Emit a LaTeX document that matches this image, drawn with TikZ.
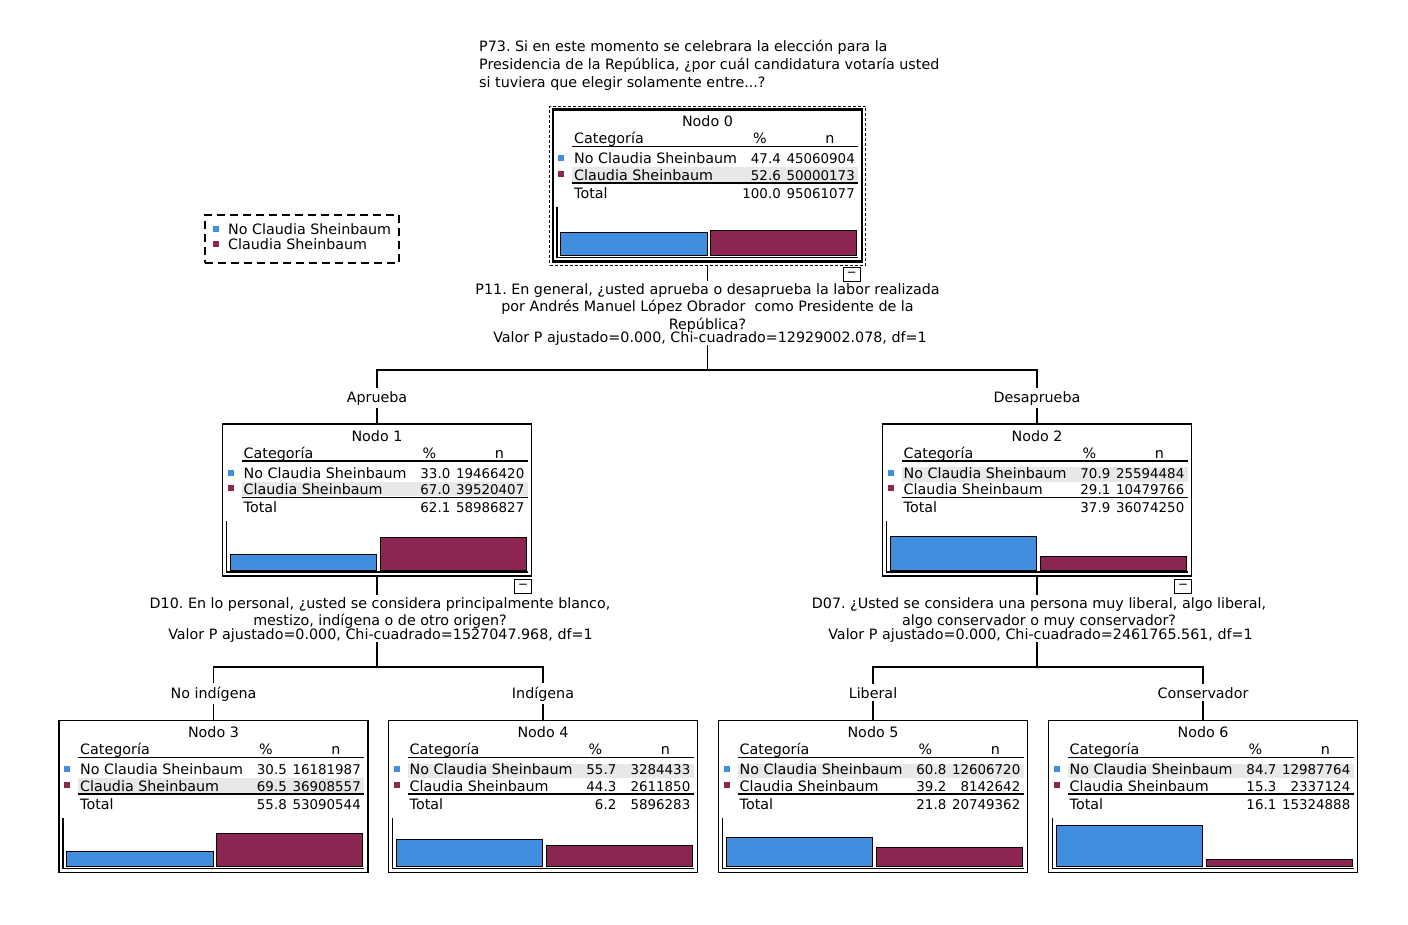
\documentclass[tikz,border=0pt]{standalone}
\usepackage{fontspec}
\setmainfont{DejaVu Sans}
\usepackage{tikz}
\frenchspacing

\definecolor{azul}{RGB}{66,142,222}
\definecolor{granate}{RGB}{140,37,82}
\definecolor{gris}{RGB}{232,232,232}

\tikzset{
  txt/.style={inner sep=0pt, font=\fontsize{14.3}{17.5}\selectfont},
  num/.style={inner sep=0pt, font=\fontsize{13.4}{17}\selectfont},
  caja/.style={draw, line width=1.3pt, minimum width=309, minimum height=152, inner sep=0pt},
  rama/.style={txt, inner ysep=3pt},
  pregunta/.style={txt, align=center, inner ysep=2pt},
  plegar/.style={draw, line width=1pt, minimum width=17, minimum height=14, inner sep=0pt, font=\fontsize{12}{12}\selectfont},
  barra/.style={draw=black, line width=0.8pt},
  linea/.style={line width=1.2pt}
}

% \nodo{k}{X,Y}{% no}{n no}{% si}{n si}{% total}{n total}{fila gris}
\newcommand{\nodo}[9]{%
  \begin{scope}[shift={(#2)}]
    \ifnum#9=1 \fill[gris] (19,43) rectangle (305,57.5);\else \fill[gris] (19,57.5) rectangle (305,72);\fi
    \node[caja] (n#1) at (154.5,76) {};
    \node[txt, anchor=base] (n#1-tit) at (154.5,17) {Nodo #1};
    \node[txt, anchor=base west] (n#1-cat) at (21,34) {Categoría};
    \node[txt, anchor=base] (n#1-pc) at (207,34) {\%};
    \node[txt, anchor=base] (n#1-n) at (277,34) {n};
    \draw[linea] (19,37) -- (305,37);
    \fill[azul] (5,45.5) rectangle (11,51.5);
    \node[txt, anchor=base west] (n#1-a) at (21,54) {No Claudia Sheinbaum};
    \node[num, anchor=base east] (n#1-ap) at (228,54) {#3};
    \node[num, anchor=base east] (n#1-an) at (302,54) {#4};
    \fill[granate] (5,61) rectangle (11,67);
    \node[txt, anchor=base west] (n#1-b) at (21,70.5) {Claudia Sheinbaum};
    \node[num, anchor=base east] (n#1-bp) at (228,70.5) {#5};
    \node[num, anchor=base east] (n#1-bn) at (302,70.5) {#6};
    \draw[line width=1.7pt] (19,73.5) -- (305,73.5);
    \node[txt, anchor=base west] (n#1-t) at (21,88.5) {Total};
    \node[num, anchor=base east] (n#1-tp) at (228,88.5) {#7};
    \node[num, anchor=base east] (n#1-tn) at (302,88.5) {#8};
    \draw[linea] (4,97) -- (4,148) -- (305,148);
    \filldraw[barra, fill=azul] (7.5,146) rectangle (154,{146-0.48*#3});
    \filldraw[barra, fill=granate] (157.5,146) rectangle (303.5,{146-0.48*#5});
  \end{scope}}

\begin{document}
\begin{tikzpicture}[x=1pt, y=-1pt]
  \useasboundingbox (0,0) rectangle (1408,924);

  \node[txt, align=left, anchor=north west] (objetivo) at (479,40)
    {P73. Si en este momento se celebrara la elección para la\\[0.5pt]
     Presidencia de la República, ¿por cuál candidatura votaría usted\\[0.5pt]
     si tuviera que elegir solamente entre...?};

  \node[draw, dash pattern=on 8pt off 5pt, line width=1.2pt, minimum width=194, minimum height=48] (leyenda) at (302,239) {};
  \fill[azul] (213,226) rectangle (219,232);
  \node[txt, anchor=base west] (ley1) at (228,234) {No Claudia Sheinbaum};
  \fill[granate] (213,241) rectangle (219,247);
  \node[txt, anchor=base west] (ley2) at (228,249) {Claudia Sheinbaum};

  \nodo{0}{553,109.5}{47.4}{45060904}{52.6}{50000173}{100.0}{95061077}{2}
  \nodo{1}{222.5,424}{33.0}{19466420}{67.0}{39520407}{62.1}{58986827}{2}
  \nodo{2}{882.5,424}{70.9}{25594484}{29.1}{10479766}{37.9}{36074250}{1}
  \nodo{3}{59,720.5}{30.5}{16181987}{69.5}{36908557}{55.8}{53090544}{2}
  \nodo{4}{388.5,720.5}{55.7}{3284433}{44.3}{2611850}{6.2}{5896283}{1}
  \nodo{5}{718.5,720.5}{60.8}{12606720}{39.2}{8142642}{21.8}{20749362}{1}
  \nodo{6}{1048.5,720.5}{84.7}{12987764}{15.3}{2337124}{16.1}{15324888}{1}

  \node[caja, line width=2.6pt] (n0b) at (n0) {};
  \node[draw, dash pattern=on 3pt off 2pt, line width=1pt, minimum width=316, minimum height=159] (n0f) at (n0) {};
  \node[plegar, anchor=north east, xshift=-2pt, yshift=-5pt] (c0) at (n0.south east) {−};
  \node[plegar, anchor=north east, yshift=-2pt] (c1) at (n1.south east) {−};
  \node[plegar, anchor=north east, yshift=-2pt] (c2) at (n2.south east) {−};

  % primera division
  \node[pregunta, anchor=north] (q1) at (707.5,281)
    {P11. En general, ¿usted aprueba o desaprueba la labor realizada\\
     por Andrés Manuel López Obrador\ \ como Presidente de la\\
     República?};
  \node[txt, anchor=base] (v1) at (710,342) {Valor P ajustado=0.000, Chi-cuadrado=12929002.078, df=1};
  \coordinate (r1) at (707.5,370);
  \node[rama, anchor=base] (e1) at (377,402) {Aprueba};
  \node[rama, anchor=base] (e2) at (1037,402) {Desaprueba};
  \draw[linea] (n0f.south) -- (q1.north);
  \draw[linea] (n0f.south |- v1.south) -- (r1);
  \draw[linea] (r1) -| (e1.north);
  \draw[linea] (r1) -| (e2.north);
  \draw[linea] (e1.south) -- (n1.north);
  \draw[linea] (e2.south) -- (n2.north);

  % segunda division, izquierda
  \node[pregunta, anchor=north] (q2) at (380,595)
    {D10. En lo personal, ¿usted se considera principalmente blanco,\\
     mestizo, indígena o de otro origen?};
  \node[txt, anchor=base] (v2) at (380.5,639) {Valor P ajustado=0.000, Chi-cuadrado=1527047.968, df=1};
  \coordinate (r2) at (377,667);
  \node[rama, anchor=base] (e3) at (213.5,698) {No indígena};
  \node[rama, anchor=base] (e4) at (543,698) {Indígena};
  \draw[linea] (n1.south) -- (n1.south |- q2.north);
  \draw[linea] (n1.south |- v2.south) -- (r2);
  \draw[linea] (r2) -| (e3.north);
  \draw[linea] (r2) -| (e4.north);
  \draw[linea] (e3.south) -- (n3.north);
  \draw[linea] (e4.south) -- (n4.north);

  % segunda division, derecha
  \node[pregunta, anchor=north] (q3) at (1039,595)
    {D07. ¿Usted se considera una persona muy liberal, algo liberal,\\
     algo conservador o muy conservador?};
  \node[txt, anchor=base] (v3) at (1040.5,639) {Valor P ajustado=0.000, Chi-cuadrado=2461765.561, df=1};
  \coordinate (r3) at (1037,667);
  \node[rama, anchor=base] (e5) at (873,698) {Liberal};
  \node[rama, anchor=base] (e6) at (1203,698) {Conservador};
  \draw[linea] (n2.south) -- (n2.south |- q3.north);
  \draw[linea] (n2.south |- v3.south) -- (r3);
  \draw[linea] (r3) -| (e5.north);
  \draw[linea] (r3) -| (e6.north);
  \draw[linea] (e5.south) -- (n5.north);
  \draw[linea] (e6.south) -- (n6.north);
\end{tikzpicture}
\end{document}
